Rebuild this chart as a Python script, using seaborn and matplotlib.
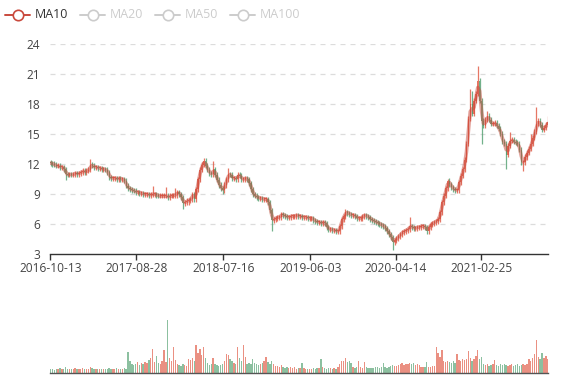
import numpy as np
import pandas as pd
import matplotlib
matplotlib.use("Agg")
import matplotlib.pyplot as plt
import matplotlib.dates as mdates
from matplotlib.lines import Line2D
import seaborn as sns

# ---------------- data (weekly candles) ----------------
start_date = "2016-10-14"
first_open = 12.2
closes = [
    12.1, 12.0, 11.9, 11.8, 11.8, 11.7, 11.7, 11.5, 11.0, 10.9,
    11.0, 10.9, 11.0, 11.1, 11.0, 11.1, 11.2, 11.3, 11.2, 11.3,
    11.4, 11.9, 11.8, 11.7, 11.7, 11.6, 11.6, 11.5, 11.5, 11.4,
    11.2, 10.7, 10.6, 10.6, 10.6, 10.5, 10.6, 10.5, 10.5, 10.3,
    9.8, 9.6, 9.5, 9.4, 9.3, 9.2, 9.2, 9.1, 9.1, 9.0,
    9.0, 9.0, 8.9, 8.95, 9.0, 9.0, 8.9, 8.8, 8.8, 8.8,
    8.8, 8.8, 8.7, 8.8, 8.8, 8.9, 8.9, 9.2, 9.0, 8.7,
    8.1, 8.2, 8.3, 8.4, 8.5, 9.0, 8.5, 9.5, 10.5, 11.4,
    11.9, 12.3, 11.8, 11.4, 11.1, 11.0, 11.5, 10.9, 10.4, 9.9,
    9.6, 9.4, 9.9, 10.5, 11.0, 10.9, 10.6, 10.6, 10.5, 10.9,
    10.8, 10.5, 10.5, 10.6, 10.5, 10.1, 9.5, 9.0, 8.8, 8.7,
    8.6, 8.6, 8.5, 8.5, 8.5, 8.2, 7.4, 6.4, 6.5, 6.6,
    6.7, 6.7, 7.0, 6.9, 6.8, 6.7, 6.7, 6.8, 6.8, 6.8,
    6.9, 6.8, 6.8, 6.7, 6.7, 6.7, 6.6, 6.6, 6.6, 6.4,
    6.3, 6.2, 6.2, 6.1, 6.2, 6.1, 5.7, 5.5, 5.5, 5.4,
    5.4, 5.3, 5.3, 5.8, 6.5, 6.8, 7.2, 7.1, 7.0, 6.9,
    6.9, 6.8, 6.6, 6.6, 6.6, 6.8, 6.9, 6.8, 6.7, 6.5,
    6.4, 6.3, 6.2, 6.1, 6.0, 5.9, 5.8, 5.6, 5.3, 5.0,
    4.7, 4.2, 4.4, 4.6, 4.8, 5.0, 5.2, 5.3, 5.4, 5.5,
    5.8, 5.7, 5.6, 5.6, 5.7, 5.7, 5.8, 5.8, 5.7, 5.3,
    5.7, 6.0, 6.1, 6.2, 6.3, 6.5, 7.2, 8.2, 8.8, 9.6,
    10.3, 10.0, 9.7, 9.5, 9.4, 9.4, 10.2, 10.8, 11.5, 12.4,
    14.0, 16.5, 18.0, 17.0, 18.3, 19.0, 20.3, 18.3, 16.3, 15.8,
    16.4, 16.8, 16.4, 16.0, 16.0, 16.1, 15.8, 15.5, 15.0, 14.2,
    14.0, 12.9, 13.8, 14.3, 14.4, 14.2, 14.1, 14.0, 13.4, 12.2,
    12.2, 12.7, 13.1, 13.5, 14.0, 14.6, 15.2, 16.0, 16.3, 15.9,
    15.4, 15.6, 15.9, 16.2,
]
# wick extremes that stand out in the reference (week index -> price)
high_spikes = {0: 12.4, 21: 12.5, 54: 9.8, 61: 9.7, 66: 9.6, 81: 12.6, 86: 12.3,
               94: 11.6, 156: 7.5, 190: 6.7, 210: 10.5, 222: 19.5, 223: 19.3,
               226: 21.8, 231: 17.3, 243: 15.2, 254: 15.0, 257: 17.7, 263: 16.8}
low_spikes = {8: 10.4, 70: 7.5, 73: 7.9, 91: 9.0, 117: 5.3, 181: 3.4, 199: 5.0,
              228: 14.0, 241: 11.5, 250: 11.3}
volumes = [
    40, 35, 30, 35, 40, 45, 35, 40, 55, 40,
    35, 40, 35, 45, 40, 35, 40, 45, 40, 35,
    40, 60, 45, 40, 35, 40, 35, 40, 35, 40,
    40, 50, 40, 35, 40, 45, 40, 40, 35, 45,
    40, 210, 120, 90, 80, 90, 110, 80, 100, 90,
    110, 100, 130, 150, 240, 110, 170, 100, 90, 120,
    230, 110, 530, 150, 120, 260, 130, 90, 80, 70,
    90, 80, 70, 140, 130, 150, 120, 280, 200, 240,
    180, 260, 150, 100, 80, 90, 150, 90, 80, 70,
    80, 90, 120, 190, 180, 140, 120, 100, 90, 260,
    150, 120, 280, 160, 90, 100, 90, 140, 100, 90,
    80, 90, 100, 120, 160, 110, 90, 120, 90, 70,
    70, 60, 80, 60, 50, 60, 50, 60, 50, 55,
    40, 45, 50, 100, 45, 40, 40, 35, 40, 45,
    40, 50, 45, 140, 60, 45, 40, 50, 45, 40,
    50, 40, 60, 90, 120, 120, 150, 110, 120, 100,
    60, 50, 60, 120, 60, 50, 110, 60, 50, 45,
    50, 45, 55, 60, 50, 60, 100, 60, 50, 60,
    70, 80, 70, 70, 80, 90, 100, 80, 90, 85,
    100, 90, 95, 80, 85, 80, 60, 55, 60, 110,
    60, 60, 70, 65, 260, 200, 160, 230, 120, 110,
    120, 110, 100, 120, 100, 190, 130, 120, 140, 130,
    140, 220, 150, 120, 140, 170, 230, 140, 160, 90,
    80, 90, 70, 80, 90, 130, 80, 70, 90, 80,
    90, 80, 70, 80, 90, 70, 80, 90, 70, 80,
    90, 80, 90, 140, 120, 150, 190, 330, 160, 140,
    200, 150, 170, 140,
]
tick_labels = ["2016-10-13", "2017-08-28", "2018-07-16", "2019-06-03",
               "2020-04-14", "2021-02-25"]
y_ticks = [3, 6, 9, 12, 15, 18, 21, 24]
legend_names = ["MA10", "MA20", "MA50", "MA100"]

# ---------------- build frame ----------------
n = len(closes)
dates = pd.date_range(start_date, periods=n, freq="7D")
df = pd.DataFrame({"date": dates, "close": closes, "volume": volumes})
df["open"] = [first_open] + closes[:-1]
body_hi = df[["open", "close"]].max(axis=1)
body_lo = df[["open", "close"]].min(axis=1)
df["high"] = [high_spikes.get(i, body_hi[i] + 0.25) for i in range(n)]
df["low"] = [low_spikes.get(i, body_lo[i] - 0.25) for i in range(n)]
df["up"] = df["close"] >= df["open"]
# daily MA10 ~ two weekly closes
df["MA10"] = df["close"].rolling(2, min_periods=1).mean()

UP = "#e0553f"
DOWN = "#4f9e6e"
MA_COLOR = "#c94a3d"
TXT = "#444444"

sns.set_theme(style="white")
plt.rcParams["font.family"] = ["Open Sans", "DejaVu Sans"]

W, H = 577, 380
fig = plt.figure(figsize=(W / 100, H / 100), dpi=100)

def fx(px):
    return px / W

def fy(py):
    return 1 - py / H

x0, x1 = 50, 548
ax = fig.add_axes([fx(x0), fy(254), fx(x1) - fx(x0), (254 - 44) / H])
axv = fig.add_axes([fx(x0), fy(372.5), fx(x1) - fx(x0), (372.5 - 300) / H], sharex=ax)

xnum = mdates.date2num(df["date"])
colors = np.where(df["up"], UP, DOWN)

# candles
ax.vlines(xnum, df["low"], df["high"], colors=colors, lw=0.9, alpha=0.8, zorder=2)
ax.bar(xnum, (df["close"] - df["open"]).abs().clip(lower=0.08), bottom=body_lo,
       width=4.5, color=colors, alpha=0.8, linewidth=0, zorder=2)
# MA10 line
sns.lineplot(data=df, x="date", y="MA10", ax=ax, color=MA_COLOR, lw=2.6,
             alpha=0.5, zorder=3, legend=False)

ax.set_ylim(3, 24)
ax.set_yticks(y_ticks)
for yv in y_ticks[1:]:
    ax.axhline(yv, color="#dcdcdc", lw=0.9, dashes=(4, 4), zorder=0)
tick_dates = pd.to_datetime(tick_labels)
ax.set_xticks(mdates.date2num(tick_dates))
ax.set_xticklabels(tick_labels)
ax.set_xlim(mdates.date2num(pd.Timestamp("2016-10-12")),
            mdates.date2num(pd.Timestamp("2021-10-30")))
ax.set_xlabel("")
ax.set_ylabel("")
for s in ["top", "right", "left"]:
    ax.spines[s].set_visible(False)
ax.spines["bottom"].set_color("#333333")
ax.spines["bottom"].set_linewidth(1.0)
ax.tick_params(axis="x", length=4, width=1, color="#333333", colors=TXT,
               labelsize=8.6, pad=2, bottom=True)
ax.tick_params(axis="y", length=0, colors=TXT, labelsize=8.6, pad=7)
ax.grid(False)

# volume
axv.bar(xnum, df["volume"], width=5.0, color=colors, alpha=0.65, linewidth=0)
axv.set_ylim(0, 725)
for s in ["top", "right", "left"]:
    axv.spines[s].set_visible(False)
axv.spines["bottom"].set_color("#555555")
axv.spines["bottom"].set_linewidth(1.0)
axv.tick_params(left=False, bottom=False, labelleft=False, labelbottom=False)
axv.grid(False)

# legend
item_x = [5, 80, 155, 230]
ly = 15
for i, (name, lx) in enumerate(zip(legend_names, item_x)):
    col = MA_COLOR if i == 0 else "#cccccc"
    tcol = "#333333" if i == 0 else "#cccccc"
    fig.add_artist(Line2D([fx(lx), fx(lx + 25)], [fy(ly), fy(ly)], color=col, lw=1.4,
                          transform=fig.transFigure))
    fig.add_artist(Line2D([fx(lx + 12.5)], [fy(ly)], marker="o", markersize=7.5,
                          markerfacecolor="white", markeredgecolor=col, markeredgewidth=1.2,
                          transform=fig.transFigure))
    fig.text(fx(lx + 30), fy(ly), name, color=tcol, fontsize=9, va="center", ha="left")

fig.savefig("out.png", dpi=100)
